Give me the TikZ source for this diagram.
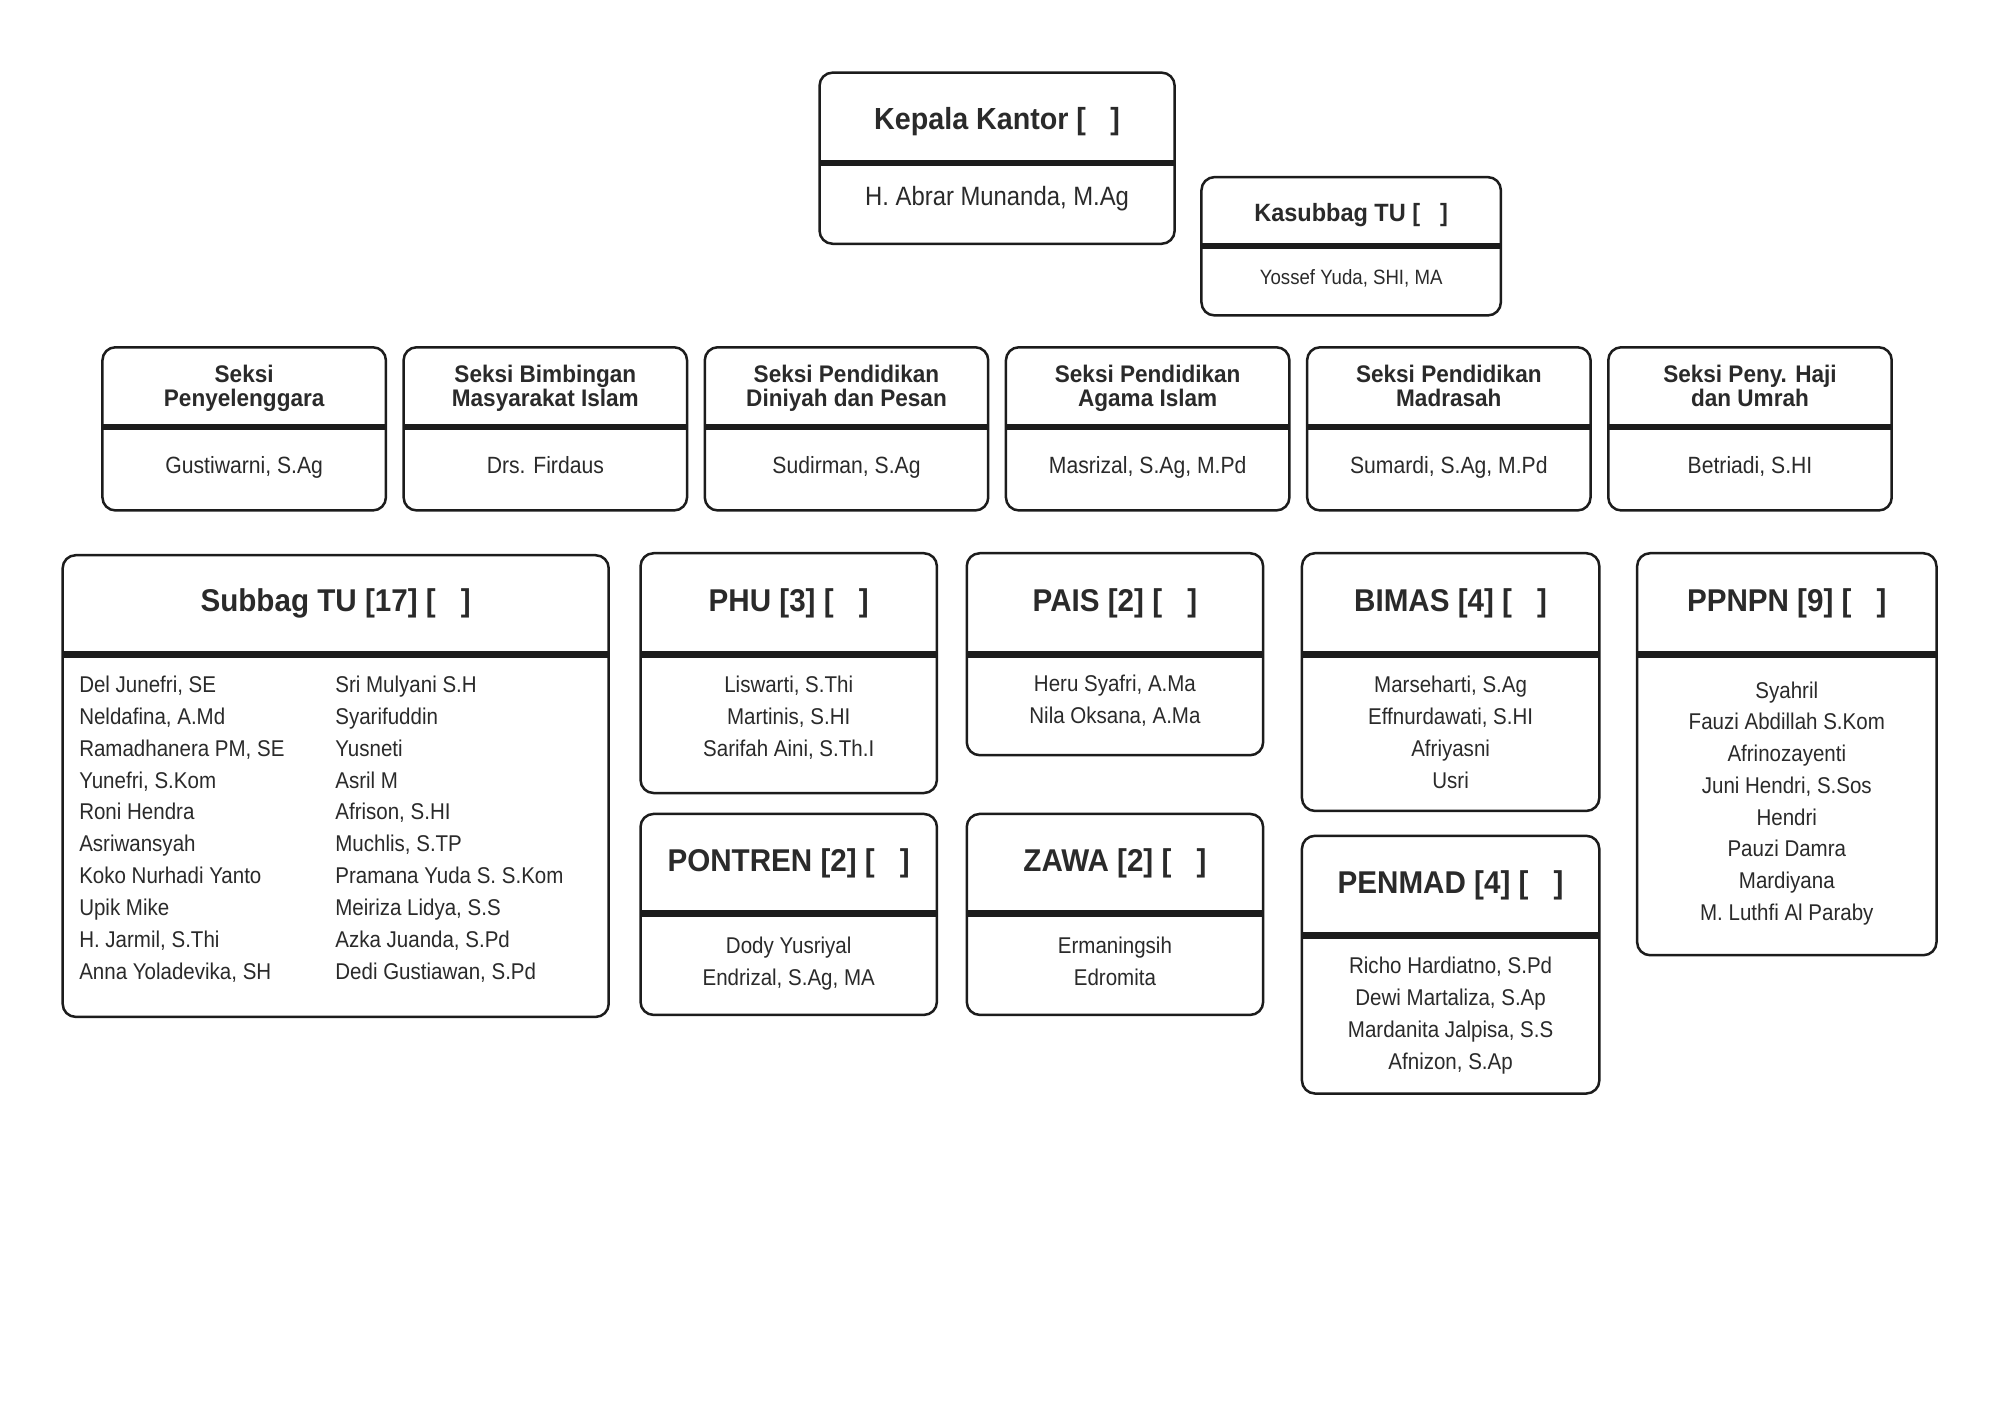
\documentclass[tikz,border=0pt]{standalone}
\usepackage{fontspec}
\setmainfont{Liberation Sans}[FakeStretch=0.9]
\newfontfamily\titlefont{Liberation Sans}[FakeStretch=0.94]
\usetikzlibrary{fit}
\definecolor{ink}{HTML}{1C1C1C}
\definecolor{txt}{HTML}{2A2A2A}
\tikzset{
  orgbox/.style={draw=ink, line width=2.5pt, rounded corners=13pt, fill=white, inner sep=0pt, outer sep=0pt},
  divider/.style={draw=ink, line width=6.5pt, line cap=butt},
  ttl/.style={text=txt, font=\titlefont\bfseries\fontsize{31.5}{36}\selectfont, inner sep=0pt, anchor=base},
  ttlmid/.style={text=txt, font=\titlefont\bfseries\fontsize{25}{30}\selectfont, inner sep=0pt, anchor=base},
  ttlsm/.style={text=txt, font=\titlefont\bfseries\fontsize{24}{28}\selectfont, inner sep=0pt, anchor=base},
  person/.style={text=txt, font=\fontsize{22.8}{28}\selectfont, inner sep=0pt, anchor=base},
  personsm/.style={text=txt, font=\fontsize{20.7}{24}\selectfont, inner sep=0pt, anchor=base},
}
\newcommand\obox[6]{%
  \node[orgbox, fit={(#2,#3) (#4,#5)}] (#1) {};
  \draw[divider] (#2,#6) -- (#4,#6);}
\newcommand\gap{[\hspace{0.8em}]}
\begin{document}
\begin{tikzpicture}[x=0.9946pt,y=-0.995pt]
\useasboundingbox[fill=white] (0pt,0pt) rectangle (2000pt,-1409pt);

% Kepala Kantor
\obox{kepala}{824}{73}{1181}{245}{164}
\node[ttl, font=\titlefont\bfseries\fontsize{30.5}{36}\selectfont] (kepalaT) at (1002.5,130) {Kepala Kantor \gap};
\node[person, font=\fontsize{26.5}{30}\selectfont] (kepalaN) at (1002.5,207) {H. Abrar Munanda, M.Ag};

% Kasubbag TU
\obox{kasub}{1208}{178}{1509}{317}{247}
\node[ttlmid] (kasubT) at (1358.5,223) {Kasubbag TU \gap};
\node[personsm] (kasubN) at (1358.5,286) {Yossef Yuda, SHI, MA};

% Seksi row
\foreach \la/\lb/\nm [count=\i] in {
  {Seksi}/{Penyelenggara}/{Gustiwarni, S.Ag},
  {Seksi Bimbingan}/{Masyarakat Islam}/{Drs. Firdaus},
  {Seksi Pendidikan}/{Diniyah dan Pesan}/{Sudirman, S.Ag},
  {Seksi Pendidikan}/{Agama Islam}/{Masrizal, S.Ag, M.Pd},
  {Seksi Pendidikan}/{Madrasah}/{Sumardi, S.Ag, M.Pd},
  {Seksi Peny. Haji}/{dan Umrah}/{Betriadi, S.HI}}{
  \pgfmathsetmacro\xa{103+302.8*(\i-1)}
  \pgfmathsetmacro\xb{\xa+285}
  \pgfmathsetmacro\xc{\xa+142.5}
  \obox{seksi\i}{\xa}{349}{\xb}{513}{429}
  \node[ttlsm] (seksi\i a) at (\xc,384) {\la};
  \node[ttlsm] (seksi\i b) at (\xc,409) {\lb};
  \node[person, font=\fontsize{23.5}{28}\selectfont] (seksi\i n) at (\xc,476) {\nm};
}

% Subbag TU
\obox{subbag}{63}{558}{612}{1022}{658}
\node[ttl] (subbagT) at (337.5,615) {Subbag TU [17] \gap};
\foreach \nm [count=\i] in {{Del Junefri, SE},{Neldafina, A.Md},{Ramadhanera PM, SE},{Yunefri, S.Kom},{Roni Hendra},{Asriwansyah},{Koko Nurhadi Yanto},{Upik Mike},{H. Jarmil, S.Thi},{Anna Yoladevika, SH}}
  \node[person, anchor=base west] (subA\i) at (79.5,{696+32*(\i-1)}) {\nm};
\foreach \nm [count=\i] in {{Sri Mulyani S.H},{Syarifuddin},{Yusneti},{Asril M},{Afrison, S.HI},{Muchlis, S.TP},{Pramana Yuda S. S.Kom},{Meiriza Lidya, S.S},{Azka Juanda, S.Pd},{Dedi Gustiawan, S.Pd}}
  \node[person, anchor=base west] (subB\i) at (337,{696+32*(\i-1)}) {\nm};

% PHU
\obox{phu}{644}{556}{942}{797}{658}
\node[ttl] (phuT) at (793,615) {PHU [3] \gap};
\foreach \nm [count=\i] in {{Liswarti, S.Thi},{Martinis, S.HI},{Sarifah Aini, S.Th.I}}
  \node[person] (phu\i) at (793,{696+32*(\i-1)}) {\nm};

% PAIS
\obox{pais}{972}{556}{1270}{759}{658}
\node[ttl] (paisT) at (1121,615) {PAIS [2] \gap};
\foreach \nm [count=\i] in {{Heru Syafri, A.Ma},{Nila Oksana, A.Ma}}
  \node[person] (pais\i) at (1121,{695+32*(\i-1)}) {\nm};

% BIMAS
\obox{bimas}{1309}{556}{1608}{815}{658}
\node[ttl] (bimasT) at (1458.5,615) {BIMAS [4] \gap};
\foreach \nm [count=\i] in {{Marseharti, S.Ag},{Effnurdawati, S.HI},{Afriyasni},{Usri}}
  \node[person] (bimas\i) at (1458.5,{696+32*(\i-1)}) {\nm};

% PPNPN
\obox{ppnpn}{1646}{556}{1947}{960}{658}
\node[ttl] (ppnpnT) at (1796.5,615) {PPNPN [9] \gap};
\foreach \nm [count=\i] in {{Syahril},{Fauzi Abdillah S.Kom},{Afrinozayenti},{Juni Hendri, S.Sos},{Hendri},{Pauzi Damra},{Mardiyana},{M. Luthfi Al Paraby}}
  \node[person] (ppnpn\i) at (1796.5,{701.6+31.9*(\i-1)}) {\nm};

% PONTREN
\obox{pontren}{644}{818}{942}{1020}{918}
\node[ttl] (pontrenT) at (793,876) {PONTREN [2] \gap};
\foreach \nm [count=\i] in {{Dody Yusriyal},{Endrizal, S.Ag, MA}}
  \node[person] (pontren\i) at (793,{958+32*(\i-1)}) {\nm};

% ZAWA
\obox{zawa}{972}{818}{1270}{1020}{918}
\node[ttl] (zawaT) at (1121,876) {ZAWA [2] \gap};
\foreach \nm [count=\i] in {{Ermaningsih},{Edromita}}
  \node[person] (zawa\i) at (1121,{958+32*(\i-1)}) {\nm};

% PENMAD
\obox{penmad}{1309}{840}{1608}{1099}{940}
\node[ttl] (penmadT) at (1458.5,898) {PENMAD [4] \gap};
\foreach \nm [count=\i] in {{Richo Hardiatno, S.Pd},{Dewi Martaliza, S.Ap},{Mardanita Jalpisa, S.S},{Afnizon, S.Ap}}
  \node[person] (penmad\i) at (1458.5,{978.5+32*(\i-1)}) {\nm};
\end{tikzpicture}
\end{document}
